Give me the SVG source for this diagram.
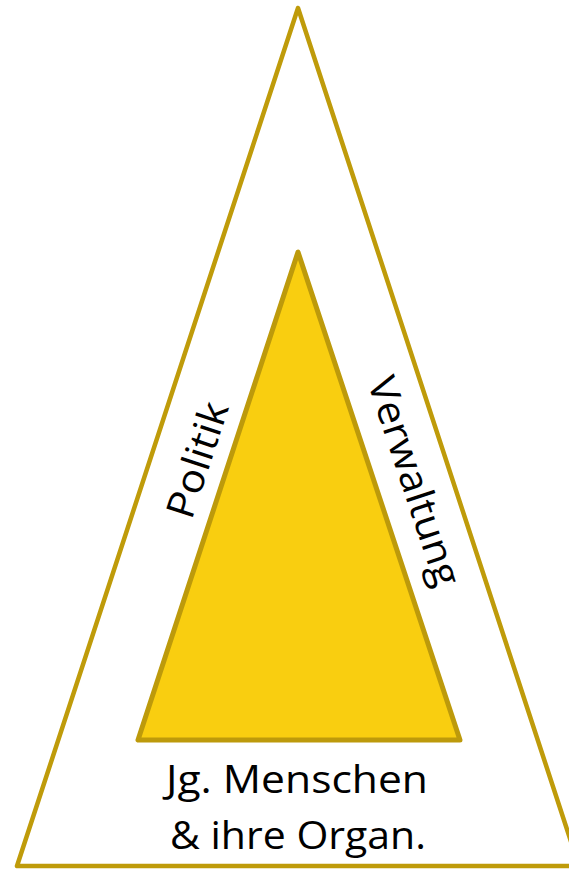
<svg xmlns="http://www.w3.org/2000/svg" width="569" height="870" viewBox="0 0 569 870">
<style>
.lbl{font-family:"Open Sans","Noto Sans","Liberation Sans",sans-serif;font-size:39px;fill:#000;}
</style>
<rect width="569" height="870" fill="#fff"/>
<g id="outer">
<polygon points="298,8 17,866 579,866" fill="#fff" stroke="#BF9B0A" stroke-width="4.5" stroke-linejoin="round"/>
</g>
<g id="inner">
<polygon points="298,252 138,740 460,740" fill="#F9CE10" stroke="#BD9A0B" stroke-width="5" stroke-linejoin="round"/>
</g>
<g id="connectors"></g>
<g id="politik">
<text class="lbl" text-anchor="middle" transform="translate(198,460) rotate(-71.8)" y="13" textLength="120" lengthAdjust="spacingAndGlyphs">Politik</text>
</g>
<g id="verwaltung">
<text class="lbl" text-anchor="middle" transform="translate(412,482) rotate(71.6)" y="11" textLength="218" lengthAdjust="spacingAndGlyphs">Verwaltung</text>
</g>
<g id="base">
<text class="lbl" text-anchor="middle" x="297" y="793" textLength="262" lengthAdjust="spacingAndGlyphs">Jg. Menschen</text>
<text class="lbl" text-anchor="middle" x="298" y="849" textLength="256" lengthAdjust="spacingAndGlyphs">&amp; ihre Organ.</text>
</g>
</svg>
